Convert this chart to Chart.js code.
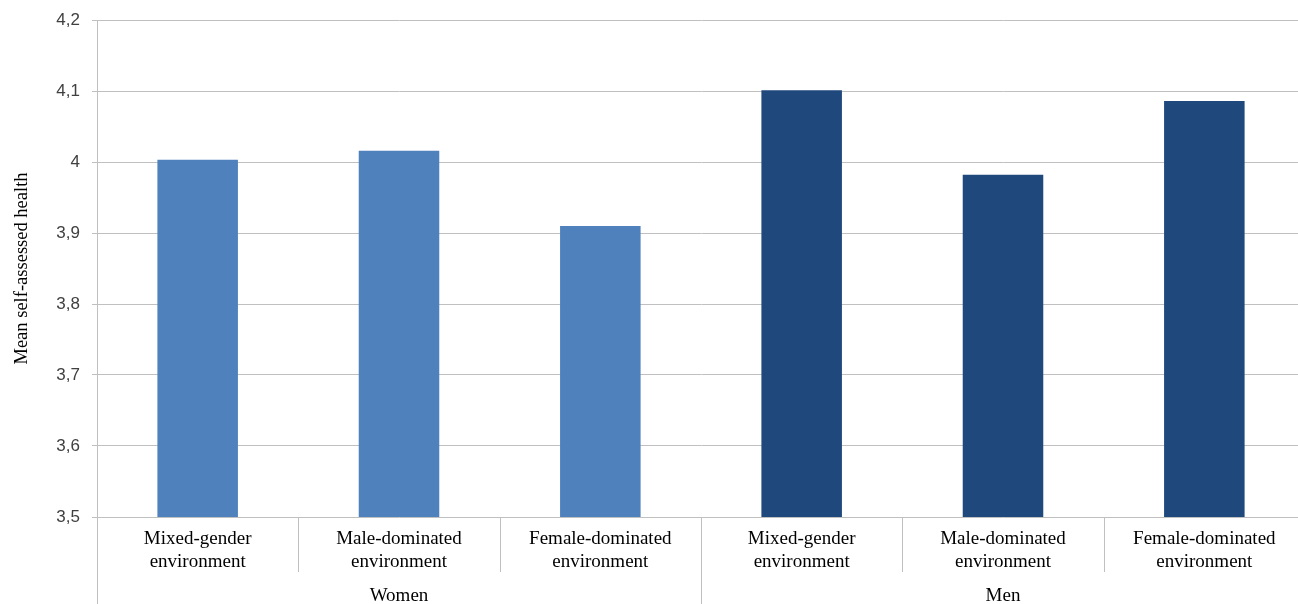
<!DOCTYPE html>
<html>
<head>
<meta charset="utf-8">
<script src="https://cdn.jsdelivr.net/npm/chart.js@4.4.1/dist/chart.umd.min.js"></script>
<style>
html,body{margin:0;padding:0;background:#fff;overflow:hidden;}
#wrap{width:1306px;height:604px;position:relative;}
</style>
</head>
<body>
<div id="wrap"><canvas id="chartCanvas"></canvas></div>
<script>
// data
const categories = [['Mixed-gender','environment'],['Male-dominated','environment'],['Female-dominated','environment']];
const groups = ['Women','Men'];
const womenValues = [4.003, 4.016, 3.910];
const menValues = [4.101, 3.982, 4.086];
const yTickLabels = ['3,5','3,6','3,7','3,8','3,9','4','4,1','4,2'];
const groupColors = ['#4F81BD','#1F497D'];

const serif = 'Liberation Serif';
const gridColor = '#c0c0c0';

// separators between categories / groups under the axis
const separators = {
  id: 'separators',
  afterDraw(chart){
    const x = chart.scales.x, x2 = chart.scales.x2, ctx = chart.ctx;
    const step = x.getPixelForValue(1) - x.getPixelForValue(0);
    ctx.save();
    ctx.strokeStyle = gridColor; ctx.lineWidth = 1;
    for(let i=0;i<=x.ticks.length;i++){
      const px = Math.round(x.getPixelForValue(0) - step/2 + i*step) + 0.5;
      const groupEdge = i % categories.length === 0;
      ctx.beginPath();
      ctx.moveTo(px, chart.chartArea.bottom);
      ctx.lineTo(px, groupEdge ? x2.bottom : x.bottom);
      ctx.stroke();
    }
    ctx.restore();
  }
};

const labels = groups.flatMap(() => categories);
const values = womenValues.concat(menValues);
const colors = groups.flatMap((g,gi) => categories.map(() => groupColors[gi]));

new Chart(document.getElementById('chartCanvas'), {
  type: 'bar',
  data: {
    labels: labels,
    datasets: [{
      data: values,
      backgroundColor: colors,
      borderWidth: 0,
      barPercentage: 0.8,
      categoryPercentage: 0.5
    }]
  },
  options: {
    responsive: true,
    maintainAspectRatio: false,
    animation: false,
    layout: { padding: { top: 20, right: 1, bottom: 0, left: 0 } },
    plugins: { legend: { display: false }, tooltip: { enabled: false } },
    scales: {
      y: {
        min: 3.5, max: 4.2,
        afterFit: s => { s.width = 97; s.paddingTop = 0; s.paddingBottom = 0; },
        ticks: {
          stepSize: 0.1,
          padding: 12,
          color: '#404040',
          font: { family: 'Liberation Sans', size: 17, lineHeight: 1 },
          callback: (v, i) => yTickLabels[i]
        },
        grid: { color: gridColor, tickLength: 5 },
        border: { color: gridColor },
        title: {
          display: true,
          text: 'Mean self-assessed health',
          color: '#000',
          font: { family: serif, size: 18.5 },
          padding: { top: 11, bottom: 0 }
        }
      },
      x: {
        afterFit: s => { s.height = 55; },
        grid: { display: false, drawTicks: false },
        border: { display: false },
        ticks: {
          padding: 11,
          maxRotation: 0,
          autoSkip: false,
          color: '#000',
          font: { family: serif, size: 19 }
        }
      },
      x2: {
        type: 'category',
        labels: groups,
        position: 'bottom',
        offset: true,
        afterFit: s => { s.height = 32; },
        grid: { display: false, drawTicks: false },
        border: { display: false },
        ticks: {
          padding: 13,
          color: '#000',
          font: { family: serif, size: 19 }
        }
      }
    }
  },
  plugins: [separators]
});
</script>
</body>
</html>
